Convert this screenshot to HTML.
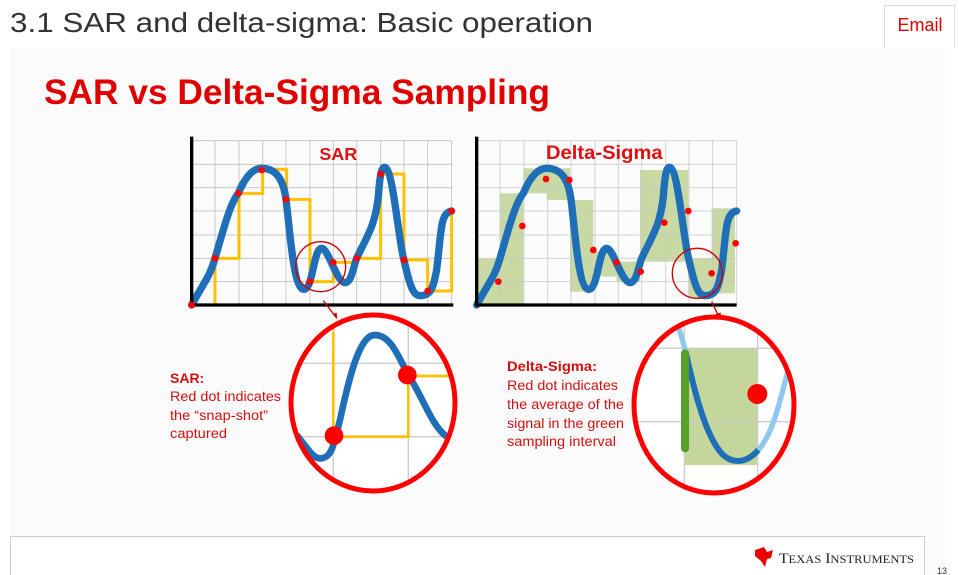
<!DOCTYPE html>
<html><head><meta charset="utf-8"><style>
html,body{margin:0;padding:0;background:#fff;width:959px;height:575px;overflow:hidden;font-family:"Liberation Sans",sans-serif;}
svg{position:absolute;left:0;top:0;}
</style></head><body>
<svg width="959" height="575" viewBox="0 0 959 575" xmlns="http://www.w3.org/2000/svg">
<defs>
<clipPath id="cl"><ellipse cx="373" cy="403" rx="81" ry="87"/></clipPath>
<clipPath id="cr"><ellipse cx="714" cy="405" rx="79" ry="87"/></clipPath>
<g id="grid">
 <path d="M35 32V525M105 32V525M177 32V525M248 32V525M318 32V525M390 32V525M460 32V525M530 32V525M602 32V525M672 32V525M743 32V525M815 32V525M35 32H815M35 103H815M35 173H815M35 243H815M35 315H815M35 385H815M35 455H815" stroke="#c8c8c8" stroke-width="3" fill="none"/>
</g>
<path id="curve" d="M35,525 C70,460 90,440 105,385 C130,300 150,220 175,190 C200,130 225,115 245,115 C290,115 310,150 318,208 C330,300 340,480 372,478 C400,476 400,355 425,355 C445,355 470,458 495,458 C515,458 520,410 530,385 C560,320 585,290 595,200 C600,130 605,110 615,112 C640,120 655,330 672,390 C690,470 700,497 720,497 C755,497 760,470 770,420 C785,300 780,250 815,243" fill="none"/>
</defs>
<rect x="10" y="48" width="935" height="527" fill="#fbfbfb"/>
<text x="10" y="32" font-family="Liberation Sans" font-size="28" fill="#333" textLength="583" lengthAdjust="spacingAndGlyphs">3.1 SAR and delta-sigma: Basic operation</text>
<path d="M884.5 48V5.5H954.5V48" fill="#fff" stroke="#ddd"/>
<text x="920" y="31" text-anchor="middle" font-size="18" fill="#d00">Email</text>
<text x="44" y="104" font-size="35" font-weight="bold" fill="#e00000" textLength="506" lengthAdjust="spacingAndGlyphs">SAR vs Delta-Sigma Sampling</text>

<!-- Left chart -->
<g transform="translate(180,130) scale(0.3333)">
 <use href="#grid"/>
 <path d="M35,525H105V385H177V190H248V118H320V208H390V455H460V397H530V385H602V132H672V390H743V483H815V243" fill="none" stroke="#ffc000" stroke-width="9"/>
 <use href="#curve" stroke="#1f6fb8" stroke-width="22" stroke-linecap="round"/>
 <path d="M35 20V525H820" fill="none" stroke="#000" stroke-width="10"/>
 <g fill="#f00">
  <circle cx="35" cy="525" r="10"/><circle cx="105" cy="385" r="10"/><circle cx="175" cy="190" r="10"/><circle cx="245" cy="120" r="10"/><circle cx="318" cy="208" r="10"/><circle cx="390" cy="455" r="10"/><circle cx="460" cy="397" r="10"/><circle cx="530" cy="385" r="10"/><circle cx="602" cy="132" r="10"/><circle cx="672" cy="390" r="10"/><circle cx="743" cy="483" r="10"/><circle cx="815" cy="243" r="10"/>
 </g>
 <text x="475" y="90" text-anchor="middle" font-size="54" font-weight="bold" fill="#e01010">SAR</text>
 <circle cx="422" cy="410" r="75" fill="none" stroke="#c00" stroke-width="4"/>
 <path d="M430,512 L468,562" stroke="#c00" stroke-width="4"/>
 <path d="M458,552 L472,568 L470,548Z" fill="#c00"/>
</g>

<!-- Right chart -->
<g transform="translate(465,130) scale(0.3333)">
 <g fill="#c3d69b" opacity="0.9">
  <rect x="35" y="385" width="70" height="140"/>
  <rect x="105" y="190" width="70" height="335"/>
  <rect x="175" y="115" width="70" height="75"/>
  <rect x="245" y="115" width="70" height="95"/>
  <rect x="315" y="210" width="70" height="275"/>
  <rect x="385" y="365" width="70" height="75"/>
  <rect x="455" y="395" width="70" height="60"/>
  <rect x="525" y="120" width="145" height="275"/>
  <rect x="670" y="385" width="70" height="120"/>
  <rect x="740" y="235" width="70" height="255"/>
 </g>
 <use href="#grid" opacity="0.8"/>
 <use href="#curve" stroke="#1f6fb8" stroke-width="22" stroke-linecap="round"/>
 <path d="M35 20V525H815" fill="none" stroke="#000" stroke-width="10"/>
 <g fill="#f00">
  <circle cx="100" cy="455" r="10"/><circle cx="172" cy="288" r="10"/><circle cx="243" cy="147" r="10"/><circle cx="313" cy="150" r="10"/><circle cx="385" cy="360" r="10"/><circle cx="455" cy="397" r="10"/><circle cx="527" cy="425" r="10"/><circle cx="598" cy="278" r="10"/><circle cx="670" cy="243" r="10"/><circle cx="740" cy="430" r="10"/><circle cx="812" cy="340" r="10"/>
 </g>
 <text x="418" y="87" text-anchor="middle" font-size="58" font-weight="bold" fill="#e01010" textLength="350" lengthAdjust="spacingAndGlyphs">Delta-Sigma</text>
 <circle cx="697" cy="430" r="75" fill="none" stroke="#c00" stroke-width="4"/>
 <path d="M740,515 L762,560" stroke="#c00" stroke-width="4"/>
 <path d="M752,552 L765,568 L768,548Z" fill="#c00"/>
</g>

<!-- Left big circle -->
<g clip-path="url(#cl)">
 <ellipse cx="373" cy="403" rx="81" ry="87" fill="#fff"/>
 <g transform="translate(160,300) scale(0.3333)">
  <path d="M520 0V600M745 0V600M380 190H900M380 410H900" stroke="#ccc" stroke-width="4"/>
  <path d="M520,95V410H745V228H870" fill="none" stroke="#ffc000" stroke-width="8"/>
  <path d="M410,405 C440,440 460,480 485,475 C515,470 520,440 540,360 C570,220 600,105 645,105 C700,105 720,190 760,250 C800,320 820,380 860,410" fill="none" stroke="#1f6fb8" stroke-width="20"/>
  <circle cx="522" cy="407" r="28" fill="#f00"/><circle cx="742" cy="225" r="28" fill="#f00"/>
 </g>
</g>
<ellipse cx="373" cy="403" rx="82" ry="88" fill="none" stroke="#f00" stroke-width="5"/>

<!-- Right big circle -->
<g clip-path="url(#cr)">
 <ellipse cx="714" cy="405" rx="79" ry="87" fill="#fff"/>
 <g transform="translate(500,300) scale(0.3333)">
  <rect x="553" y="145" width="220" height="350" fill="#c3d69b"/>
  <path d="M553 0V600M773 0V600M380 145H900M380 365H900" stroke="#ccc" stroke-width="4"/>
  <path d="M535,80 C545,110 550,130 557,155" fill="none" stroke="#8ec8f0" stroke-width="16"/>
  <path d="M775,450 C820,400 840,300 865,210" fill="none" stroke="#8ec8f0" stroke-width="16"/>
  <path d="M557,155 C580,260 610,380 650,440 C680,490 730,500 775,450" fill="none" stroke="#1f6fb8" stroke-width="18"/>
  <path d="M555,160V445" stroke="#5a9e2e" stroke-width="24" stroke-linecap="round"/>
  <circle cx="772" cy="282" r="30" fill="#f00"/>
 </g>
</g>
<ellipse cx="714" cy="405" rx="80" ry="88" fill="none" stroke="#f00" stroke-width="5"/>

<g font-family="Liberation Sans" font-size="14" fill="#d01010">
 <text x="170" y="383" font-weight="bold">SAR:</text>
 <text x="170" y="401" textLength="111" lengthAdjust="spacingAndGlyphs">Red dot indicates</text>
 <text x="170" y="420" textLength="98" lengthAdjust="spacingAndGlyphs">the “snap-shot”</text>
 <text x="170" y="438" textLength="57" lengthAdjust="spacingAndGlyphs">captured</text>
 <text x="507" y="371" font-weight="bold" textLength="90" lengthAdjust="spacingAndGlyphs">Delta-Sigma:</text>
 <text x="507" y="390" textLength="111" lengthAdjust="spacingAndGlyphs">Red dot indicates</text>
 <text x="507" y="409" textLength="117" lengthAdjust="spacingAndGlyphs">the average of the</text>
 <text x="507" y="428" textLength="117" lengthAdjust="spacingAndGlyphs">signal in the green</text>
 <text x="507" y="446" textLength="109" lengthAdjust="spacingAndGlyphs">sampling interval</text>
</g>

<path d="M10.5 575V536.5H924.5V575" fill="#fff" stroke="#ccc"/>
<path d="M755,550 L764,547 L767,552 L773,550 L771,558 L767,559 L765,567 L761,561 L755,556Z" fill="#e00"/>
<text x="779" y="563" font-size="15" fill="#222" font-family="Liberation Serif" textLength="135" lengthAdjust="spacingAndGlyphs">T<tspan font-size="12">EXAS</tspan> I<tspan font-size="12">NSTRUMENTS</tspan></text>
<text x="937" y="574" font-size="9" fill="#333">13</text>
</svg>
</body></html>
